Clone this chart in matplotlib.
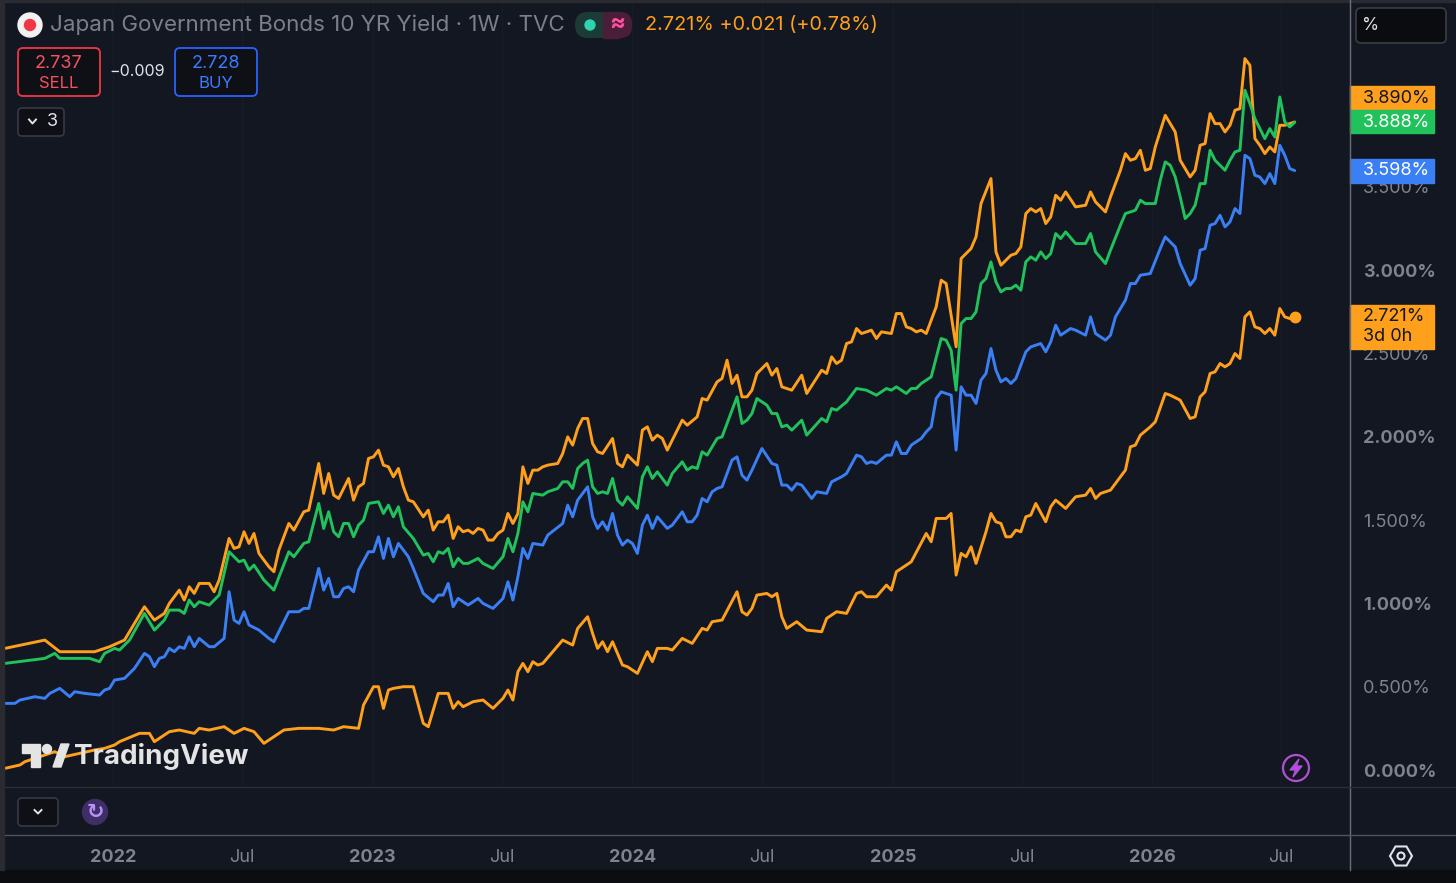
import numpy as np
import pandas as pd
import matplotlib
matplotlib.use('Agg')
import matplotlib.pyplot as plt
import matplotlib.dates as mdates
import matplotlib.transforms as mtransforms
from matplotlib.patches import Rectangle, FancyBboxPatch, Circle, Polygon, RegularPolygon

plt.rcParams['font.family'] = ['Inter', 'DejaVu Sans']

# weekly bars, week 0 = first bar on the chart
START = pd.Timestamp('2021-08-02')

# (week, yield %)
top_pts = [(0, 0.73), (8, 0.78), (11, 0.71), (18, 0.71), (21, 0.74), (24, 0.78), (25, 0.83), (28, 0.98),
           (30, 0.90), (32, 0.94), (33, 1.00), (35, 1.08), (36, 1.02), (37, 1.10), (38, 1.06), (39, 1.12),
           (41, 1.12), (42, 1.07), (43, 1.14), (45, 1.39), (46, 1.33), (47, 1.34), (48, 1.43), (49, 1.36),
           (50, 1.42), (51, 1.30), (53, 1.22), (54, 1.19), (55, 1.32), (57, 1.48), (58, 1.44), (60, 1.55),
           (61, 1.56), (63, 1.84), (64, 1.66), (65, 1.78), (66, 1.65), (67, 1.63), (69, 1.75), (70, 1.62),
           (71, 1.70), (72, 1.72), (73, 1.87), (74, 1.88), (75, 1.92), (76, 1.83), (77, 1.82), (78, 1.76),
           (79, 1.81), (80, 1.70), (81, 1.62), (82, 1.61), (84, 1.52), (85, 1.56), (86, 1.44), (87, 1.49),
           (88, 1.49), (89, 1.53), (90, 1.39), (91, 1.46), (92, 1.43), (93, 1.44), (94, 1.42), (95, 1.45),
           (96, 1.44), (97, 1.38), (98, 1.38), (99, 1.42), (100, 1.44), (101, 1.54), (102, 1.48), (103, 1.54),
           (104, 1.82), (105, 1.72), (106, 1.80), (107, 1.80), (108, 1.82), (109, 1.83), (111, 1.84), (112, 1.90),
           (113, 2.00), (114, 1.95), (115, 2.05), (116, 2.11), (117, 2.11), (118, 1.96), (119, 1.91), (120, 1.90),
           (122, 1.99), (123, 1.84), (124, 1.82), (125, 1.89), (127, 1.83), (128, 2.04), (129, 2.06), (130, 1.98),
           (131, 2.01), (132, 1.99), (133, 1.92), (136, 2.10), (137, 2.07), (139, 2.12), (140, 2.23), (141, 2.22),
           (143, 2.33), (144, 2.35), (145, 2.46), (146, 2.32), (147, 2.37), (148, 2.24), (149, 2.24), (150, 2.28),
           (151, 2.38), (153, 2.44), (154, 2.37), (155, 2.41), (156, 2.30), (158, 2.28), (160, 2.37), (161, 2.26),
           (164, 2.40), (165, 2.38), (166, 2.48), (167, 2.44), (168, 2.46), (169, 2.56), (170, 2.57), (171, 2.65),
           (172, 2.62), (174, 2.64), (175, 2.59), (176, 2.63), (178, 2.62), (179, 2.74), (180, 2.74), (181, 2.66),
           (182, 2.65), (183, 2.63), (184, 2.64), (185, 2.62), (187, 2.78), (188, 2.94), (189, 2.92), (191, 2.54),
           (192, 3.07), (194, 3.13), (195, 3.20), (196, 3.40), (198, 3.55), (199, 3.11), (200, 3.03), (201, 3.06),
           (202, 3.09), (203, 3.10), (204, 3.14), (205, 3.34), (206, 3.37), (207, 3.35), (208, 3.37), (209, 3.28),
           (210, 3.32), (211, 3.45), (212, 3.42), (213, 3.47), (215, 3.38), (217, 3.39), (218, 3.47), (219, 3.41),
           (221, 3.35), (222, 3.44), (224, 3.60), (225, 3.70), (226, 3.66), (227, 3.67), (228, 3.72), (229, 3.60),
           (230, 3.61), (231, 3.74), (233, 3.93), (234, 3.88), (235, 3.83), (236, 3.66), (238, 3.56), (239, 3.60),
           (240, 3.75), (241, 3.76), (242, 3.94), (243, 3.88), (244, 3.88), (245, 3.83), (246, 3.87), (247, 3.96),
           (248, 3.97), (249, 4.27), (250, 4.23), (251, 3.79), (252, 3.75), (253, 3.70), (254, 3.74), (255, 3.71),
           (256, 3.87), (257, 3.87), (258, 3.88), (259, 3.890)]

green_pts = [(0, 0.64), (8, 0.67), (10, 0.70), (11, 0.67), (17, 0.67), (19, 0.65), (20, 0.70), (22, 0.73),
             (23, 0.72), (25, 0.78), (28, 0.94), (30, 0.84), (32, 0.90), (33, 0.96), (35, 0.96), (36, 0.94),
             (37, 1.02), (38, 0.98), (39, 1.01), (41, 0.99), (43, 1.05), (45, 1.31), (47, 1.25), (48, 1.26),
             (49, 1.20), (50, 1.23), (52, 1.14), (54, 1.08), (57, 1.31), (58, 1.28), (60, 1.36), (61, 1.37),
             (63, 1.60), (64, 1.45), (65, 1.55), (66, 1.43), (67, 1.40), (68, 1.48), (69, 1.48), (70, 1.40),
             (71, 1.47), (72, 1.50), (73, 1.60), (75, 1.61), (76, 1.54), (77, 1.59), (78, 1.52), (79, 1.58),
             (80, 1.46), (82, 1.39), (84, 1.29), (85, 1.30), (86, 1.25), (87, 1.31), (88, 1.30), (89, 1.33),
             (90, 1.22), (91, 1.27), (92, 1.24), (93, 1.24), (95, 1.27), (96, 1.24), (98, 1.21), (100, 1.28),
             (101, 1.39), (102, 1.31), (103, 1.42), (104, 1.61), (105, 1.55), (106, 1.66), (108, 1.65), (109, 1.67),
             (111, 1.69), (112, 1.73), (113, 1.73), (114, 1.69), (115, 1.81), (116, 1.84), (117, 1.86), (118, 1.70),
             (119, 1.66), (120, 1.67), (121, 1.66), (122, 1.75), (123, 1.62), (124, 1.59), (125, 1.64), (127, 1.57),
             (128, 1.76), (129, 1.82), (130, 1.75), (131, 1.79), (133, 1.71), (134, 1.78), (136, 1.85), (137, 1.80),
             (138, 1.82), (139, 1.81), (140, 1.91), (141, 1.89), (143, 1.99), (144, 2.00), (147, 2.24), (148, 2.08),
             (149, 2.10), (150, 2.14), (151, 2.23), (153, 2.19), (154, 2.14), (155, 2.14), (156, 2.06), (157, 2.07),
             (158, 2.04), (160, 2.10), (161, 2.01), (164, 2.11), (165, 2.09), (166, 2.17), (167, 2.16), (169, 2.21),
             (171, 2.29), (173, 2.28), (175, 2.25), (177, 2.29), (178, 2.28), (179, 2.30), (181, 2.26), (182, 2.29),
             (183, 2.29), (184, 2.32), (186, 2.36), (188, 2.59), (189, 2.58), (190, 2.52), (191, 2.28), (192, 2.68),
             (193, 2.71), (194, 2.71), (195, 2.75), (196, 2.92), (197, 2.95), (198, 3.05), (199, 2.93), (200, 2.87),
             (201, 2.89), (202, 2.89), (203, 2.91), (204, 2.88), (205, 3.05), (206, 3.08), (207, 3.06), (208, 3.11),
             (209, 3.07), (210, 3.10), (211, 3.22), (212, 3.19), (213, 3.23), (215, 3.16), (217, 3.16), (218, 3.22),
             (219, 3.11), (221, 3.04), (222, 3.12), (224, 3.27), (225, 3.34), (227, 3.36), (228, 3.42), (229, 3.40),
             (231, 3.40), (232, 3.54), (233, 3.65), (234, 3.63), (235, 3.56), (236, 3.44), (237, 3.31), (238, 3.34),
             (239, 3.39), (240, 3.52), (241, 3.52), (242, 3.72), (243, 3.66), (245, 3.60), (246, 3.66), (247, 3.71),
             (248, 3.72), (249, 4.08), (250, 4.00), (251, 3.91), (253, 3.79), (254, 3.85), (255, 3.80), (256, 4.04),
             (257, 3.89), (258, 3.86), (259, 3.888)]

blue_pts = [(0, 0.40), (2, 0.40), (3, 0.42), (6, 0.44), (8, 0.43), (9, 0.46), (11, 0.49), (13, 0.44),
            (14, 0.47), (16, 0.46), (19, 0.45), (20, 0.48), (21, 0.49), (22, 0.54), (24, 0.55), (26, 0.61),
            (28, 0.70), (29, 0.68), (30, 0.62), (31, 0.67), (32, 0.68), (33, 0.73), (34, 0.71), (35, 0.74),
            (36, 0.73), (37, 0.80), (38, 0.74), (39, 0.79), (41, 0.74), (42, 0.74), (44, 0.79), (45, 1.07),
            (46, 0.90), (47, 0.88), (48, 0.95), (49, 0.87), (51, 0.84), (53, 0.79), (54, 0.77), (57, 0.95),
            (59, 0.95), (60, 0.97), (61, 0.97), (63, 1.21), (64, 1.08), (65, 1.15), (66, 1.04), (67, 1.04),
            (68, 1.09), (69, 1.10), (70, 1.07), (71, 1.20), (73, 1.31), (74, 1.31), (75, 1.40), (76, 1.27),
            (77, 1.39), (78, 1.28), (79, 1.36), (81, 1.28), (82, 1.21), (84, 1.06), (86, 1.01), (87, 1.05),
            (88, 1.05), (89, 1.12), (90, 0.98), (91, 1.03), (93, 0.99), (95, 1.03), (96, 1.00), (98, 0.97),
            (100, 1.03), (101, 1.13), (102, 1.02), (103, 1.16), (104, 1.33), (105, 1.27), (106, 1.36), (108, 1.35),
            (109, 1.41), (112, 1.48), (113, 1.59), (114, 1.52), (115, 1.62), (117, 1.70), (118, 1.52), (119, 1.45),
            (120, 1.49), (121, 1.44), (122, 1.54), (123, 1.41), (124, 1.35), (125, 1.38), (126, 1.36), (127, 1.30),
            (128, 1.47), (129, 1.53), (130, 1.45), (131, 1.52), (133, 1.45), (134, 1.47), (136, 1.55), (137, 1.49),
            (138, 1.49), (139, 1.53), (140, 1.63), (141, 1.61), (142, 1.67), (143, 1.69), (144, 1.70), (146, 1.86),
            (147, 1.88), (148, 1.77), (149, 1.74), (150, 1.80), (152, 1.93), (154, 1.84), (155, 1.83), (156, 1.71),
            (157, 1.71), (158, 1.68), (159, 1.72), (160, 1.71), (162, 1.63), (163, 1.67), (165, 1.66), (166, 1.73),
            (168, 1.76), (169, 1.78), (171, 1.89), (172, 1.88), (173, 1.84), (174, 1.85), (175, 1.84), (177, 1.89),
            (178, 1.89), (179, 1.97), (180, 1.90), (181, 1.90), (182, 1.95), (184, 1.99), (185, 2.03), (186, 2.06),
            (187, 2.23), (188, 2.27), (190, 2.25), (191, 1.92), (192, 2.30), (193, 2.25), (194, 2.25), (195, 2.20),
            (196, 2.34), (197, 2.38), (198, 2.53), (199, 2.40), (200, 2.33), (201, 2.35), (202, 2.32), (203, 2.35),
            (205, 2.51), (206, 2.54), (208, 2.56), (209, 2.51), (210, 2.57), (211, 2.67), (212, 2.61), (214, 2.65),
            (215, 2.64), (217, 2.61), (218, 2.72), (219, 2.62), (221, 2.58), (222, 2.61), (223, 2.72), (225, 2.82),
            (226, 2.92), (227, 2.92), (228, 2.97), (230, 2.98), (232, 3.13), (233, 3.20), (235, 3.14), (236, 3.04),
            (238, 2.91), (239, 2.95), (240, 3.12), (241, 3.13), (242, 3.27), (243, 3.28), (244, 3.33), (245, 3.26),
            (246, 3.29), (247, 3.37), (248, 3.34), (249, 3.69), (250, 3.67), (251, 3.57), (252, 3.56), (253, 3.52),
            (254, 3.58), (255, 3.52), (256, 3.75), (257, 3.69), (258, 3.61), (259, 3.598)]

# Japan Government Bonds 10 YR Yield (main series)
jgb10_pts = [(0, 0.01), (3, 0.03), (4, 0.05), (7, 0.08), (10, 0.11), (12, 0.08), (15, 0.10), (18, 0.12),
             (20, 0.13), (22, 0.15), (23, 0.17), (27, 0.22), (29, 0.22), (30, 0.17), (33, 0.23), (35, 0.24),
             (38, 0.22), (39, 0.25), (41, 0.24), (44, 0.26), (46, 0.22), (48, 0.25), (50, 0.23), (52, 0.16),
             (54, 0.20), (56, 0.24), (59, 0.25), (63, 0.25), (66, 0.24), (68, 0.26), (71, 0.25), (72, 0.39),
             (74, 0.50), (75, 0.50), (76, 0.37), (77, 0.48), (78, 0.49), (80, 0.50), (82, 0.50), (84, 0.28),
             (85, 0.26), (87, 0.46), (89, 0.46), (90, 0.37), (91, 0.41), (92, 0.38), (94, 0.41), (96, 0.42),
             (98, 0.37), (100, 0.43), (101, 0.48), (102, 0.42), (103, 0.59), (104, 0.64), (105, 0.59), (106, 0.65),
             (107, 0.63), (108, 0.64), (110, 0.71), (112, 0.78), (114, 0.75), (115, 0.85), (117, 0.92), (118, 0.82),
             (119, 0.73), (120, 0.77), (121, 0.71), (122, 0.77), (124, 0.63), (125, 0.62), (127, 0.58), (129, 0.71),
             (130, 0.65), (131, 0.73), (133, 0.73), (134, 0.72), (136, 0.79), (138, 0.76), (140, 0.85), (141, 0.84),
             (142, 0.89), (144, 0.90), (147, 1.07), (148, 0.95), (149, 0.93), (150, 0.97), (151, 1.05), (153, 1.06),
             (154, 1.04), (155, 1.06), (156, 0.92), (157, 0.85), (159, 0.89), (161, 0.84), (164, 0.83), (165, 0.91),
             (167, 0.95), (169, 0.94), (171, 1.06), (172, 1.07), (173, 1.04), (175, 1.04), (177, 1.11), (178, 1.08),
             (179, 1.19), (180, 1.21), (182, 1.25), (185, 1.42), (186, 1.37), (187, 1.51), (189, 1.51), (190, 1.54),
             (191, 1.17), (192, 1.30), (193, 1.28), (194, 1.34), (195, 1.24), (197, 1.43), (198, 1.54), (199, 1.49),
             (200, 1.48), (201, 1.40), (202, 1.40), (203, 1.44), (204, 1.43), (205, 1.52), (206, 1.53), (207, 1.60),
             (209, 1.49), (210, 1.58), (211, 1.62), (213, 1.57), (215, 1.64), (217, 1.65), (218, 1.69), (219, 1.63),
             (220, 1.66), (222, 1.68), (225, 1.80), (226, 1.94), (227, 1.95), (228, 2.01), (230, 2.06), (231, 2.09),
             (233, 2.26), (234, 2.25), (236, 2.22), (238, 2.11), (239, 2.12), (240, 2.24), (241, 2.27), (242, 2.38),
             (243, 2.39), (244, 2.44), (245, 2.42), (246, 2.44), (247, 2.50), (248, 2.47), (249, 2.72), (250, 2.75),
             (251, 2.66), (252, 2.65), (253, 2.62), (254, 2.65), (255, 2.61), (256, 2.77), (257, 2.72), (258, 2.71),
             (259, 2.721)]

time_ticks = ['2022-01-01', '2022-07-01', '2023-01-01', '2023-07-01', '2024-01-01',
              '2024-07-01', '2025-01-01', '2025-07-01', '2026-01-01', '2026-07-01']
time_labels = ['2022', 'Jul', '2023', 'Jul', '2024', 'Jul', '2025', 'Jul', '2026', 'Jul']
price_ticks = [0.0, 0.5, 1.0, 1.5, 2.0, 2.5, 3.0, 3.5]

BG = '#131722'
ORANGE = '#FFA01C'
GREEN = '#21C25C'
BLUE = '#3B7FF5'
AXIS_TXT = '#80838c'
W, H = 1456, 883


def series(pts):
    wk = np.array([p[0] for p in pts], dtype=float)
    val = np.array([p[1] for p in pts])
    return START + pd.to_timedelta(wk * 7, unit='D'), val


fig = plt.figure(figsize=(W / 100, H / 100), dpi=100, facecolor=BG)

# main pane
ax = fig.add_axes([5 / W, 1 - 786 / H, 1344 / W, 786 / H])
ax.set_facecolor(BG)
for s in ax.spines.values():
    s.set_visible(False)

for pts, col in [(top_pts, ORANGE), (green_pts, GREEN), (blue_pts, BLUE), (jgb10_pts, ORANGE)]:
    d, v = series(pts)
    ax.plot(d, v, color=col, lw=2.1, solid_joinstyle='round', solid_capstyle='round')
d, v = series(jgb10_pts)
ax.plot([d[-1]], [v[-1]], 'o', color=ORANGE, ms=7.5)

ax.set_xlim(START, START + pd.Timedelta(days=7 * 269.9))
ax.set_ylim(-0.096, 4.622)
ax.set_xticks(pd.to_datetime(time_ticks))
ax.tick_params(axis='x', length=0, labelbottom=False)
ax.grid(axis='x', color='#181c27', lw=1)
ax.yaxis.tick_right()
ax.set_yticks(price_ticks)
ax.set_yticklabels([f'{t:.3f}%' for t in price_ticks])
ax.tick_params(axis='y', length=0, pad=10, labelsize=13, labelcolor=AXIS_TXT)
for t, lab in zip(price_ticks, ax.get_yticklabels()):
    if t == int(t):
        lab.set_fontweight('bold')

# overlay in pixel coordinates for the chrome
ov = fig.add_axes([0, 0, 1, 1], zorder=5)
ov.set_xlim(0, W)
ov.set_ylim(H, 0)
ov.axis('off')

ov.add_patch(Rectangle((0, 870), W, 13, color='#0c0d10'))
ov.add_patch(Rectangle((0, 0), 4, 870, color='#2a2b30'))
ov.add_patch(Rectangle((0, 0), W, 2, color='#2a2b30'))
ov.plot([1349.5, 1349.5], [0, 870], color='#6c6f78', lw=1)
ov.plot([5, W], [786.5, 786.5], color='#2a2e39', lw=1)
ov.plot([5, W], [834.5, 834.5], color='#50535d', lw=1)

# time axis
tt = mtransforms.blended_transform_factory(ax.transData, ov.transData)
for dt, lab in zip(pd.to_datetime(time_ticks), time_labels):
    ov.text(mdates.date2num(dt), 857, lab, transform=tt, ha='center', va='center', fontsize=13,
            color=AXIS_TXT, fontweight='normal' if lab == 'Jul' else 'bold', clip_on=False)

# price labels on the right scale
pt = mtransforms.blended_transform_factory(ov.transData, ax.transData)
ppu = ax.transData.transform((0, 1))[1] - ax.transData.transform((0, 0))[1]


def price_box(v, up, down, fc):
    ov.add_patch(Rectangle((1350, v - down / ppu), 84, (up + down) / ppu, transform=pt,
                           color=fc, clip_on=False))


last_top = top_pts[-1][1]
last_green = green_pts[-1][1]
last_blue = blue_pts[-1][1]
last_jgb = jgb10_pts[-1][1]
top_lab_v = last_green + 24 / ppu

price_box(top_lab_v, 12, 11, ORANGE)
ov.text(1363, top_lab_v, f'{last_top:.3f}%', transform=pt, va='center', fontsize=13, color='#131722')
price_box(last_green, 12, 11, GREEN)
ov.text(1363, last_green, f'{last_green:.3f}%', transform=pt, va='center', fontsize=13, color='white')
price_box(last_blue, 12, 12, BLUE)
ov.text(1363, last_blue, f'{last_blue:.3f}%', transform=pt, va='center', fontsize=13, color='white')
price_box(last_jgb, 12, 32, ORANGE)
ov.text(1363, last_jgb, f'{last_jgb:.3f}%', transform=pt, va='center', fontsize=13, color='#131722')
ov.text(1363, last_jgb - 20 / ppu, '3d 0h', transform=pt, va='center', fontsize=13, color='#131722')

# % box
ov.add_patch(FancyBboxPatch((1356, 8), 90, 35, boxstyle='round,pad=0,rounding_size=5',
                            fc='#0b0c0f', ec='#3a3d46', lw=1.2))
ov.text(1362, 26, '%', va='center', fontsize=12.5, color='#e0e3eb')

# header
ov.add_patch(Circle((30, 25), 12, color='#f2f2f2'))
ov.add_patch(Circle((30, 25), 5.5, color='#f23645'))
ov.text(50, 25, 'Japan Government Bonds 10 YR Yield · 1W · TVC', va='center', fontsize=16.1, color='#7c7f89')
ov.add_patch(FancyBboxPatch((575, 12), 57, 26, boxstyle='round,pad=0,rounding_size=13', fc='#1c3b36', ec='none'))
ov.add_patch(Rectangle((603, 12), 16, 26, color='#4a1e38'))
ov.add_patch(FancyBboxPatch((603, 12), 29, 26, boxstyle='round,pad=0,rounding_size=12', fc='#4a1e38', ec='none'))
ov.add_patch(Circle((590, 25), 5, color='#2fd3ae'))
ov.text(617, 24, '≈', ha='center', va='center', fontsize=17, color='#ff4fa0', fontweight='bold')
ov.text(645, 25, '2.721% +0.021 (+0.78%)', va='center', fontsize=14.3, color=ORANGE)

# sell / buy
ov.add_patch(FancyBboxPatch((18, 48), 82, 48, boxstyle='round,pad=0,rounding_size=5',
                            fc='#0e1016', ec='#f23645', lw=1.3))
ov.text(59, 63, '2.737', ha='center', va='center', fontsize=13, color='#f7525f')
ov.text(59, 83, 'SELL', ha='center', va='center', fontsize=12, color='#f7525f')
ov.text(137, 72, '\u22120.009', ha='center', va='center', fontsize=11.5, color='#e0e3eb')
ov.add_patch(FancyBboxPatch((175, 48), 82, 48, boxstyle='round,pad=0,rounding_size=5',
                            fc='#0e1016', ec='#2962ff', lw=1.3))
ov.text(216, 63, '2.728', ha='center', va='center', fontsize=13, color='#3b7bff')
ov.text(216, 83, 'BUY', ha='center', va='center', fontsize=12, color='#3b7bff')

ov.add_patch(FancyBboxPatch((18, 108), 46, 28, boxstyle='round,pad=0,rounding_size=4',
                            fc='#0e1016', ec='#363a45', lw=1.2))
ov.plot([29, 32.5, 36], [119.5, 123.5, 119.5], color='#e0e3eb', lw=1.4)
ov.text(52, 122, '3', ha='center', va='center', fontsize=13, color='#e0e3eb')

# TradingView watermark
LOGO = '#e4e4e4'
ov.add_patch(Polygon([(22, 744), (40, 744), (40, 767), (31, 767), (31, 753), (22, 753)], color=LOGO))
ov.add_patch(Circle((47, 749), 4.5, color=LOGO))
ov.add_patch(Polygon([(53, 767), (61, 744), (69, 744), (61, 767)], color=LOGO))
ov.text(74, 756, 'TradingView', va='center', fontsize=20, fontweight='bold', color=LOGO)

# lightning button
ov.add_patch(Circle((1296, 768), 13, fc='none', ec='#b14fd6', lw=1.6))
ov.add_patch(Polygon([(1299, 759), (1290, 770), (1295.5, 770), (1293, 777), (1302, 766), (1296.5, 766)],
                     color='#b14fd6'))

# bottom toolbar
ov.add_patch(FancyBboxPatch((18, 798), 40, 28, boxstyle='round,pad=0,rounding_size=4',
                            fc='#0e1016', ec='#363a45', lw=1.2))
ov.plot([34.5, 38, 41.5], [810, 813.5, 810], color='#e0e3eb', lw=1.4)
ov.add_patch(Circle((95, 812), 12.5, color='#3f2f66'))
ov.text(95, 812, '\u21bb', ha='center', va='center', fontsize=15, color='#b692f6', fontweight='bold',
        family='DejaVu Sans')

# settings
ov.add_patch(RegularPolygon((1401, 856), 6, radius=11, orientation=np.pi / 6, fc='none', ec='#e0e3eb', lw=1.5))
ov.add_patch(Circle((1401, 856), 3.5, fc='none', ec='#e0e3eb', lw=1.5))

fig.savefig('out.png', dpi=100, facecolor=BG)
